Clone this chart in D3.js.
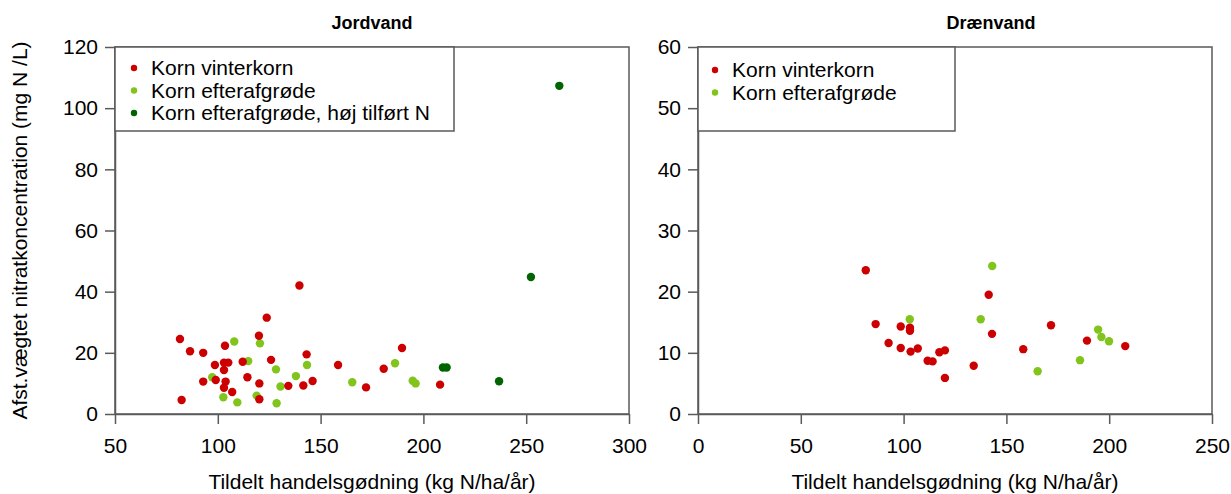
<!DOCTYPE html>
<html>
<head>
<meta charset="utf-8">
<script src="https://cdn.jsdelivr.net/npm/d3@7"></script>
<style>
  body { margin: 0; background: #fff; }
  svg { display: block; font-family: "Liberation Sans", Arial, sans-serif; }
</style>
</head>
<body>
<div id="chart"></div>
<script>
// Series names used in both legends
var seriesNames = ["Korn vinterkorn", "Korn efterafgrøde", "Korn efterafgrøde, høj tilført N"];

// Jordvand (left panel) - [tildelt N, nitrat]
var jordVinterkorn = [
  [81.6, 24.5], [86.5, 20.5], [92.9, 20.0], [82.4, 4.6], [92.9, 10.6], [98.6, 16.0],
  [99.0, 11.1], [103.5, 22.3], [103.0, 16.8], [105.1, 16.8], [103.0, 14.4], [103.8, 10.6],
  [103.0, 8.6], [107.0, 7.2], [112.1, 17.1], [114.4, 12.0], [120.2, 10.0], [120.2, 4.8],
  [120.0, 25.6], [123.8, 31.5], [125.9, 17.7], [139.7, 42.0], [134.3, 9.2], [143.2, 19.5],
  [141.6, 9.3], [146.1, 10.8], [158.5, 16.0], [172.1, 8.7], [180.7, 14.8], [189.6, 21.6],
  [208.1, 9.6]
];
var jordEfterafgrode = [
  [108.0, 23.7], [120.5, 23.1], [114.8, 17.3], [97.3, 12.0], [102.7, 5.5], [109.5, 3.8],
  [118.9, 6.0], [128.3, 14.6], [130.5, 9.0], [128.6, 3.5], [138.0, 12.4], [143.4, 16.0],
  [165.4, 10.4], [186.2, 16.6], [194.8, 10.9], [196.2, 10.0]
];
var jordHojN = [
  [209.5, 15.2], [211.3, 15.2], [236.8, 10.7], [252.3, 44.8], [266.1, 107.3]
];

// Drænvand (right panel)
var draenVinterkorn = [
  [81.6, 23.5], [86.4, 14.7], [98.6, 14.3], [103.1, 14.1], [103.1, 13.6], [92.7, 11.6],
  [98.6, 10.8], [103.4, 10.2], [106.9, 10.7], [111.7, 8.7], [114.1, 8.6], [117.4, 10.1],
  [120.1, 10.4], [120.1, 5.9], [134.1, 7.9], [141.4, 19.5], [143.0, 13.1], [158.2, 10.6],
  [171.7, 14.5], [189.2, 12.0], [207.8, 11.1]
];
var draenEfterafgrode = [
  [103.0, 15.5], [137.5, 15.5], [143.1, 24.2], [165.2, 7.0], [185.8, 8.8], [194.6, 13.8],
  [196.2, 12.6], [199.9, 11.9]
];

// Tick values
var jordXTicks = [50, 100, 150, 200, 250, 300];
var jordYTicks = [0, 20, 40, 60, 80, 100, 120];
var draenXTicks = [0, 50, 100, 150, 200, 250];
var draenYTicks = [0, 10, 20, 30, 40, 50, 60];

var colors = ["#cc0000", "#80c41c", "#006400"];
var axisColor = "#5a5a5a";

var W = 1231, H = 494;
var plotTop = 47, plotBottom = 414;

var svg = d3.select("#chart").append("svg")
  .attr("width", W)
  .attr("height", H);

// y axis title (shared, left side)
svg.append("text")
  .attr("transform", "translate(27," + ((plotTop + plotBottom) / 2) + ") rotate(-90)")
  .attr("text-anchor", "middle")
  .attr("font-size", 21)
  .text("Afst.vægtet nitratkoncentration (mg N /L)");

function drawPanel(opts) {
  var x = d3.scaleLinear().domain(opts.xDomain).range([opts.left, opts.right]);
  var y = d3.scaleLinear().domain(opts.yDomain).range([plotBottom, plotTop]);

  var g = svg.append("g");

  // frame
  g.append("rect")
    .attr("x", opts.left)
    .attr("y", plotTop)
    .attr("width", opts.right - opts.left)
    .attr("height", plotBottom - plotTop)
    .attr("fill", "none")
    .attr("stroke", axisColor)
    .attr("stroke-width", 1.5);

  // title
  g.append("text")
    .attr("x", opts.titleX)
    .attr("y", 29)
    .attr("text-anchor", "middle")
    .attr("font-size", 18)
    .attr("font-weight", "bold")
    .text(opts.title);

  var xAxis = g.append("g")
    .attr("transform", "translate(0," + plotBottom + ")")
    .call(d3.axisBottom(x).tickValues(opts.xTicks).tickSize(10).tickSizeOuter(0).tickPadding(14));
  var yAxis = g.append("g")
    .attr("transform", "translate(" + opts.left + ",0)")
    .call(d3.axisLeft(y).tickValues(opts.yTicks).tickSize(10).tickSizeOuter(0).tickPadding(7));

  [xAxis, yAxis].forEach(function(a) {
    a.selectAll("path, line").attr("stroke", axisColor).attr("stroke-width", 1.5);
    a.selectAll("text").attr("font-size", 21).attr("fill", "#000")
      .attr("font-family", "'Liberation Sans', Arial, sans-serif");
  });

  // x axis title
  g.append("text")
    .attr("x", (opts.left + opts.right) / 2)
    .attr("y", 489)
    .attr("text-anchor", "middle")
    .attr("font-size", 21)
    .text("Tildelt handelsgødning (kg N/ha/år)");

  // points: light green below red, dark green on top
  var order = [1, 0, 2];
  order.forEach(function(si) {
    var data = opts.series[si];
    if (!data) return;
    g.append("g").selectAll("circle")
      .data(data)
      .enter()
      .append("circle")
      .attr("cx", function(d) { return x(d[0]); })
      .attr("cy", function(d) { return y(d[1]); })
      .attr("r", 4.2)
      .attr("fill", colors[si]);
  });

  // legend box
  var lg = g.append("g");
  lg.append("rect")
    .attr("x", opts.left)
    .attr("y", plotTop)
    .attr("width", opts.legendWidth)
    .attr("height", 84)
    .attr("fill", "#fff")
    .attr("stroke", axisColor)
    .attr("stroke-width", 1.5);

  opts.series.forEach(function(data, si) {
    var by = opts.legendY0 + si * 22.5;
    lg.append("circle")
      .attr("cx", opts.left + opts.legendDotDx)
      .attr("cy", by - 7)
      .attr("r", 3.2)
      .attr("fill", colors[si]);
    lg.append("text")
      .attr("x", opts.left + opts.legendDotDx + 17)
      .attr("y", by)
      .attr("font-size", 21)
      .text(seriesNames[si]);
  });
}

drawPanel({
  title: "Jordvand", titleX: 372,
  left: 115, right: 629,
  xDomain: [50, 300], yDomain: [0, 120],
  xTicks: jordXTicks, yTicks: jordYTicks,
  series: [jordVinterkorn, jordEfterafgrode, jordHojN],
  legendWidth: 339, legendY0: 75, legendDotDx: 19
});

drawPanel({
  title: "Drænvand", titleX: 991,
  left: 698, right: 1212,
  xDomain: [0, 250], yDomain: [0, 60],
  xTicks: draenXTicks, yTicks: draenYTicks,
  series: [draenVinterkorn, draenEfterafgrode],
  legendWidth: 257, legendY0: 77, legendDotDx: 17
});
</script>
</body>
</html>
